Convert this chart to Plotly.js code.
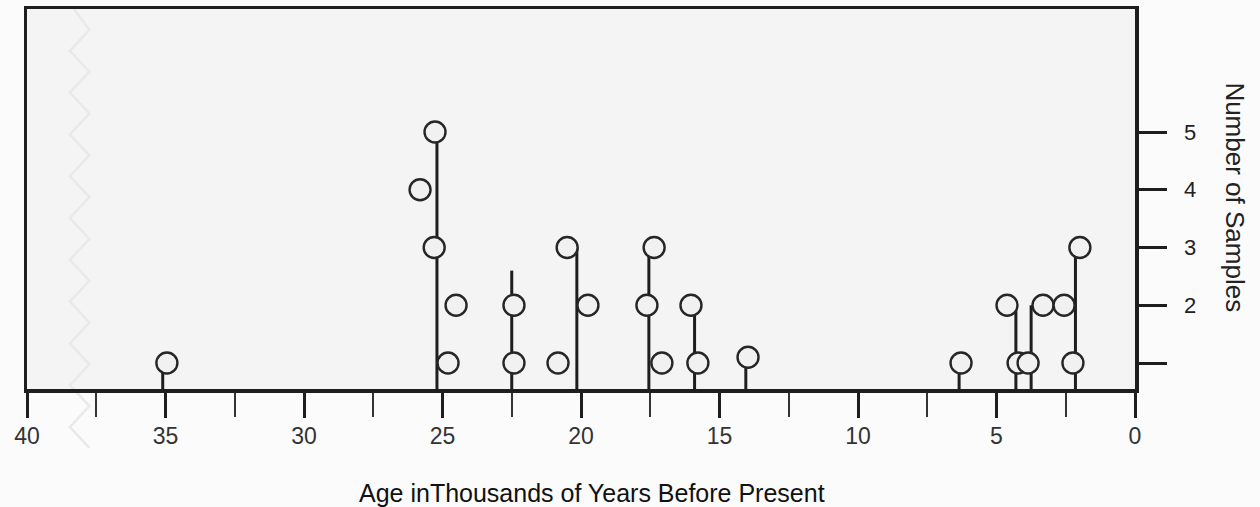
<!DOCTYPE html>
<html>
<head>
<meta charset="utf-8">
<script src="https://cdn.plot.ly/plotly-3.0.1.min.js"></script>
<style>html,body{margin:0;padding:0;background:#fbfbfb;}</style>
</head>
<body>
<div id="chart" style="width:1260px;height:507px;"></div>
<script>
// Sample markers: age (thousands of years BP) and sample count level
var sampleAges   = [34.95, 25.27, 25.81, 25.3, 24.51, 24.8, 22.42, 22.42, 20.83, 20.5, 19.75, 17.36, 17.62, 17.08, 16.03, 15.78, 13.97, 6.28, 4.62, 4.22, 3.86, 3.32, 2.56, 2.24, 1.99];
var sampleCounts = [1,     5,     4,     3,    2,     1,    2,     1,     1,     3,    2,     3,     2,     1,     2,     1,     1.1,   1,    2,    1,    1,    2,    2,    1,    3];
// Vertical stems: age and height
var stemAges    = [35.1, 25.2, 22.5, 20.15, 17.55, 15.9, 14.05, 6.35, 4.3, 3.75, 2.15];
var stemHeights = [1,    5,    2.6,  3,     3,     2,    1.1,   1,    2,   2,    3];
// Axis ticks
var xTickVals = [40, 35, 30, 25, 20, 15, 10, 5, 0];
var xTickText = ['40', '35', '30', '25', '20', '15', '10', '5', '0'];
var yTickVals = [1, 2, 3, 4, 5];
var yTickText = ['', '2', '3', '4', '5'];

var yMin = 0.55, yMax = 7.13;

var stemX = [], stemY = [];
for (var i = 0; i < stemAges.length; i++) {
  stemX.push(stemAges[i], stemAges[i], null);
  stemY.push(yMin, stemHeights[i], null);
}

// faint axis-break zigzag (decoration)
var zz = 'M 38.3 1.0';
var n = 0;
for (var yy = 1.0; yy >= -0.15; yy -= 0.055) {
  n++;
  zz += ' L ' + (n % 2 ? 37.75 : 38.45) + ' ' + (yy - 0.055).toFixed(3);
}

var ink = '#1e1e1e';
var font = 'Liberation Sans, Arial, sans-serif';

var traces = [
  {
    x: stemX, y: stemY, type: 'scatter', mode: 'lines',
    line: {color: ink, width: 3}, hoverinfo: 'skip', showlegend: false, cliponaxis: false
  },
  {
    x: sampleAges, y: sampleCounts, type: 'scatter', mode: 'markers',
    marker: {symbol: 'circle', size: 21, color: '#f1f1f1', line: {color: '#262626', width: 2.4}},
    showlegend: false, cliponaxis: false
  }
];

var layout = {
  width: 1260, height: 507,
  margin: {l: 27, r: 125, t: 9, b: 118},
  paper_bgcolor: '#fbfbfb',
  plot_bgcolor: '#f4f4f4',
  font: {family: font, color: ink, size: 22},
  xaxis: {
    range: [40, 0], showgrid: false, zeroline: false,
    showline: true, linecolor: ink, linewidth: 3.5, mirror: true,
    ticks: 'outside', ticklen: 25, tickwidth: 3, tickcolor: ink,
    tickvals: xTickVals, ticktext: xTickText,
    ticklabelstandoff: -1,
    tickfont: {family: font, size: 23, color: '#333'},
    minor: {dtick: 2.5, tick0: 0, ticks: 'outside', ticklen: 24, tickwidth: 2, tickcolor: '#333', showgrid: false}
  },
  yaxis: {
    range: [yMin, yMax], side: 'right', showgrid: false, zeroline: false,
    showline: true, linecolor: ink, linewidth: 3.5, mirror: true,
    ticks: 'outside', ticklen: 28, tickwidth: 3, tickcolor: ink,
    tickvals: yTickVals, ticktext: yTickText,
    ticklabelstandoff: 13,
    tickfont: {family: font, size: 22, color: '#222'}
  },
  shapes: [
    {type: 'path', xref: 'x', yref: 'paper', path: zz, line: {color: '#e9e9e9', width: 2.5}, layer: 'below'}
  ],
  annotations: [
    {text: 'Number of Samples', xref: 'paper', yref: 'paper', x: 1.09, y: 0.505,
     xanchor: 'center', yanchor: 'middle', textangle: 90, showarrow: false,
     font: {family: font, size: 26, color: '#222'}},
    {text: 'Age inThousands of Years Before Present', xref: 'paper', yref: 'paper', x: 0.51, y: -0.274,
     xanchor: 'center', yanchor: 'middle', showarrow: false,
     font: {family: font, size: 25, color: '#111'}}
  ]
};

Plotly.newPlot('chart', traces, layout, {displayModeBar: false, staticPlot: true});
</script>
</body>
</html>
